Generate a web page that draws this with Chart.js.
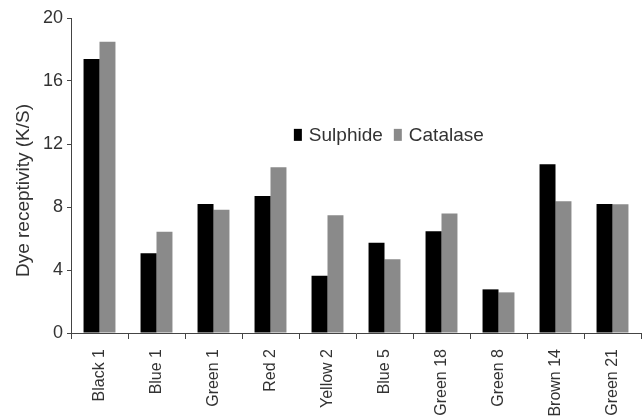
<!DOCTYPE html>
<html>
<head>
<meta charset="utf-8">
<script src="https://cdn.jsdelivr.net/npm/chart.js@4"></script>
<style>
  html, body { margin: 0; padding: 0; background: #fff; }
  #wrap { width: 643px; height: 417px; }
</style>
</head>
<body>
<div id="wrap"><canvas id="dyeChart"></canvas></div>
<script>
// dye receptivity
const dyes = ['Black 1', 'Blue 1', 'Green 1', 'Red 2', 'Yellow 2', 'Blue 5', 'Green 18', 'Green 8', 'Brown 14', 'Green 21'];
const sulphide = [17.4, 5.06, 8.19, 8.7, 3.64, 5.73, 6.46, 2.77, 10.71, 8.19];
const catalase = [18.5, 6.43, 7.83, 10.52, 7.47, 4.68, 7.58, 2.58, 8.36, 8.17];
const yTicks = [0, 4, 8, 12, 16, 20];
const yTitle = 'Dye receptivity (K/S)';

const font = 'Liberation Sans, Arial, sans-serif';
const textColor = '#333';

// legend drawn inside the plot, like the original
const innerLegend = {
    id: 'innerLegend',
    afterDraw(chart) {
        const c = chart.ctx;
        const area = chart.chartArea;
        let x = area.left + 0.391 * (area.right - area.left);
        const y = area.top + 0.371 * (area.bottom - area.top);
        c.save();
        c.font = '19px ' + font;
        c.textBaseline = 'middle';
        chart.data.datasets.forEach(ds => {
            c.fillStyle = ds.backgroundColor;
            c.fillRect(x, y - 6, 8, 12);
            x += 15;
            c.fillStyle = textColor;
            c.fillText(ds.label, x, y + 1);
            x += c.measureText(ds.label).width + 11;
        });
        c.restore();
    }
};

// y title sits a bit below the middle of the axis in the original
const sideTitle = {
    id: 'sideTitle',
    afterDraw(chart) {
        const c = chart.ctx;
        const area = chart.chartArea;
        c.save();
        c.translate(24, (area.top + area.bottom) / 2 + 15);
        c.rotate(-Math.PI / 2);
        c.font = '19px ' + font;
        c.fillStyle = textColor;
        c.textAlign = 'center';
        c.textBaseline = 'middle';
        c.fillText(yTitle, 0, 0);
        c.restore();
    }
};

const ctx = document.getElementById('dyeChart').getContext('2d');
const dyeChart = new Chart(ctx, {
    type: 'bar',
    data: {
        labels: dyes,
        datasets: [{
            label: 'Sulphide',
            data: sulphide,
            backgroundColor: '#000000'
        }, {
            label: 'Catalase',
            data: catalase,
            backgroundColor: '#8a8a8a'
        }]
    },
    options: {
        responsive: true,
        maintainAspectRatio: false,
        animation: false,
        layout: { padding: { top: 18, right: 2, left: 0, bottom: 0 } },
        datasets: {
            bar: { categoryPercentage: 0.56, barPercentage: 1.0 }
        },
        plugins: {
            legend: { display: false },
            tooltip: { enabled: false }
        },
        scales: {
            x: {
                grid: {
                    display: true,
                    drawOnChartArea: false,
                    offset: true,
                    tickLength: 6,
                    color: '#444'
                },
                border: { color: '#444', width: 1 },
                ticks: {
                    color: textColor,
                    font: { family: font, size: 16 },
                    minRotation: 90,
                    maxRotation: 90,
                    padding: 10
                },
                afterFit(scale) { scale.height = 84; }
            },
            y: {
                min: 0,
                max: 20,
                afterBuildTicks(scale) { scale.ticks = yTicks.map(v => ({ value: v })); },
                grid: {
                    display: true,
                    drawOnChartArea: false,
                    tickLength: 4,
                    color: '#444'
                },
                border: { color: '#444', width: 1 },
                ticks: {
                    color: textColor,
                    font: { family: font, size: 18 },
                    padding: 4
                },
                afterFit(scale) { scale.width = 71; }
            }
        }
    },
    plugins: [innerLegend, sideTitle]
});
</script>
</body>
</html>
